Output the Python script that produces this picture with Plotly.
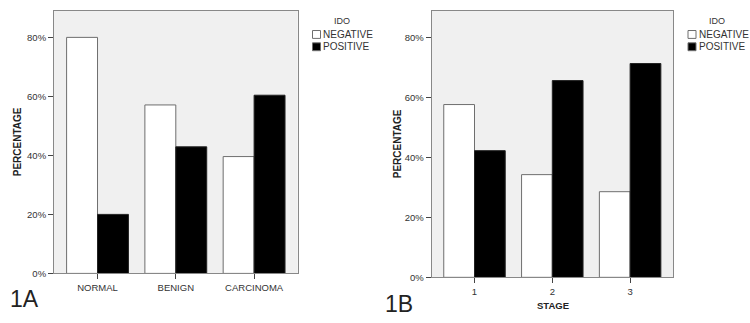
import plotly.graph_objects as go

W, H = 750, 323

# ---- data ----
cats_a = ["NORMAL", "BENIGN", "CARCINOMA"]
neg_a = [80.0, 57.1, 39.6]
pos_a = [20.0, 42.9, 60.4]

cats_b = ["1", "2", "3"]
neg_b = [57.7, 34.3, 28.6]
pos_b = [42.3, 65.7, 71.4]

series_names = ["NEGATIVE", "POSITIVE"]
y_ticks = [0, 20, 40, 60, 80]
y_tick_labels = ["0%", "20%", "40%", "60%", "80%"]

# ---- styles ----
FONT = "Liberation Sans, Arial, sans-serif"
COL_NEG = "#ffffff"
COL_POS = "#000000"
EDGE = "#6e6e6e"
BG = "#f0f0f0"
BORDER = "#888888"
TXT = "#333333"


def px(x):
    return x / W


def py(y):
    return 1 - y / H


fig = go.Figure()

for xa, ya, cats, neg, pos in [("x", "y", cats_a, neg_a, pos_a),
                               ("x2", "y2", cats_b, neg_b, pos_b)]:
    fig.add_trace(go.Bar(x=cats, y=neg, name=series_names[0], xaxis=xa, yaxis=ya,
                         marker=dict(color=COL_NEG, line=dict(color=EDGE, width=1)),
                         showlegend=False, offsetgroup="neg", hoverinfo="skip"))
    fig.add_trace(go.Bar(x=cats, y=pos, name=series_names[1], xaxis=xa, yaxis=ya,
                         marker=dict(color=COL_POS, line=dict(color="#222", width=1)),
                         showlegend=False, offsetgroup="pos", hoverinfo="skip"))

axis_common = dict(showline=True, mirror=True, linecolor=BORDER, linewidth=1,
                   showgrid=False, zeroline=False, ticks="outside", ticklen=5,
                   tickcolor="#444", tickwidth=1,
                   tickfont=dict(family=FONT, size=9.5, color=TXT))

fig.update_layout(
    width=W, height=H, autosize=False,
    margin=dict(l=0, r=0, t=0, b=0),
    paper_bgcolor="white", plot_bgcolor=BG,
    barmode="group", bargap=0.21, bargroupgap=0,
    font=dict(family=FONT, color=TXT),
    xaxis=dict(domain=[px(54), px(297.7)], anchor="y", type="category",
               range=[-0.556, 2.557], **axis_common),
    yaxis=dict(domain=[py(277.7), py(11)], anchor="x", range=[0, 89],
               tickmode="array", tickvals=y_ticks, ticktext=y_tick_labels, **axis_common),
    xaxis2=dict(domain=[px(431.7), px(673.3)], anchor="y2", type="category",
                range=[-0.55, 2.555], **axis_common),
    yaxis2=dict(domain=[py(281.7), py(11)], anchor="x2", range=[0, 89],
                tickmode="array", tickvals=y_ticks, ticktext=y_tick_labels, **axis_common),
)

ann = []
shapes = []

# axis titles
for xc, yc in [(17, 144.5), (397.5, 146)]:
    ann.append(dict(text="<b>PERCENTAGE</b>", x=px(xc), y=py(yc), xref="paper", yref="paper",
                    textangle=-90, showarrow=False, xanchor="center", yanchor="middle",
                    font=dict(family=FONT, size=10, color="#222")))
ann.append(dict(text="<b>STAGE</b>", x=px(552.5), y=py(310), xref="paper", yref="paper",
                showarrow=False, xanchor="center", yanchor="middle",
                font=dict(family=FONT, size=9.5, color="#222")))

# panel labels
ann.append(dict(text="1A", x=px(8), y=py(303.5), xref="paper", yref="paper",
                showarrow=False, xanchor="left", yanchor="middle",
                font=dict(family=FONT, size=23, color="#222")))
ann.append(dict(text="1B", x=px(383), y=py(308.5), xref="paper", yref="paper",
                showarrow=False, xanchor="left", yanchor="middle",
                font=dict(family=FONT, size=23, color="#222")))

# legends (manual, one per panel)
for box_x, title_x in [(312.5, 342), (688, 717)]:
    ann.append(dict(text="IDO", x=px(title_x), y=py(21.5), xref="paper", yref="paper",
                    showarrow=False, xanchor="center", yanchor="middle",
                    font=dict(family=FONT, size=9, color=TXT)))
    for name, col, yc in [(series_names[0], COL_NEG, 35), (series_names[1], COL_POS, 47.5)]:
        shapes.append(dict(type="rect", xref="paper", yref="paper",
                           x0=px(box_x), x1=px(box_x + 8), y0=py(yc + 4), y1=py(yc - 4),
                           fillcolor=col, line=dict(color=EDGE, width=1)))
        ann.append(dict(text=name, x=px(box_x + 8.5), y=py(yc), xref="paper", yref="paper",
                        showarrow=False, xanchor="left", yanchor="middle",
                        font=dict(family=FONT, size=10, color=TXT)))

fig.update_layout(annotations=ann, shapes=shapes)

fig.write_html(
    "out.html",
    config={"displayModeBar": False, "staticPlot": True},
    post_script="document.body.style.margin='0';document.body.style.overflow='hidden';",
)
